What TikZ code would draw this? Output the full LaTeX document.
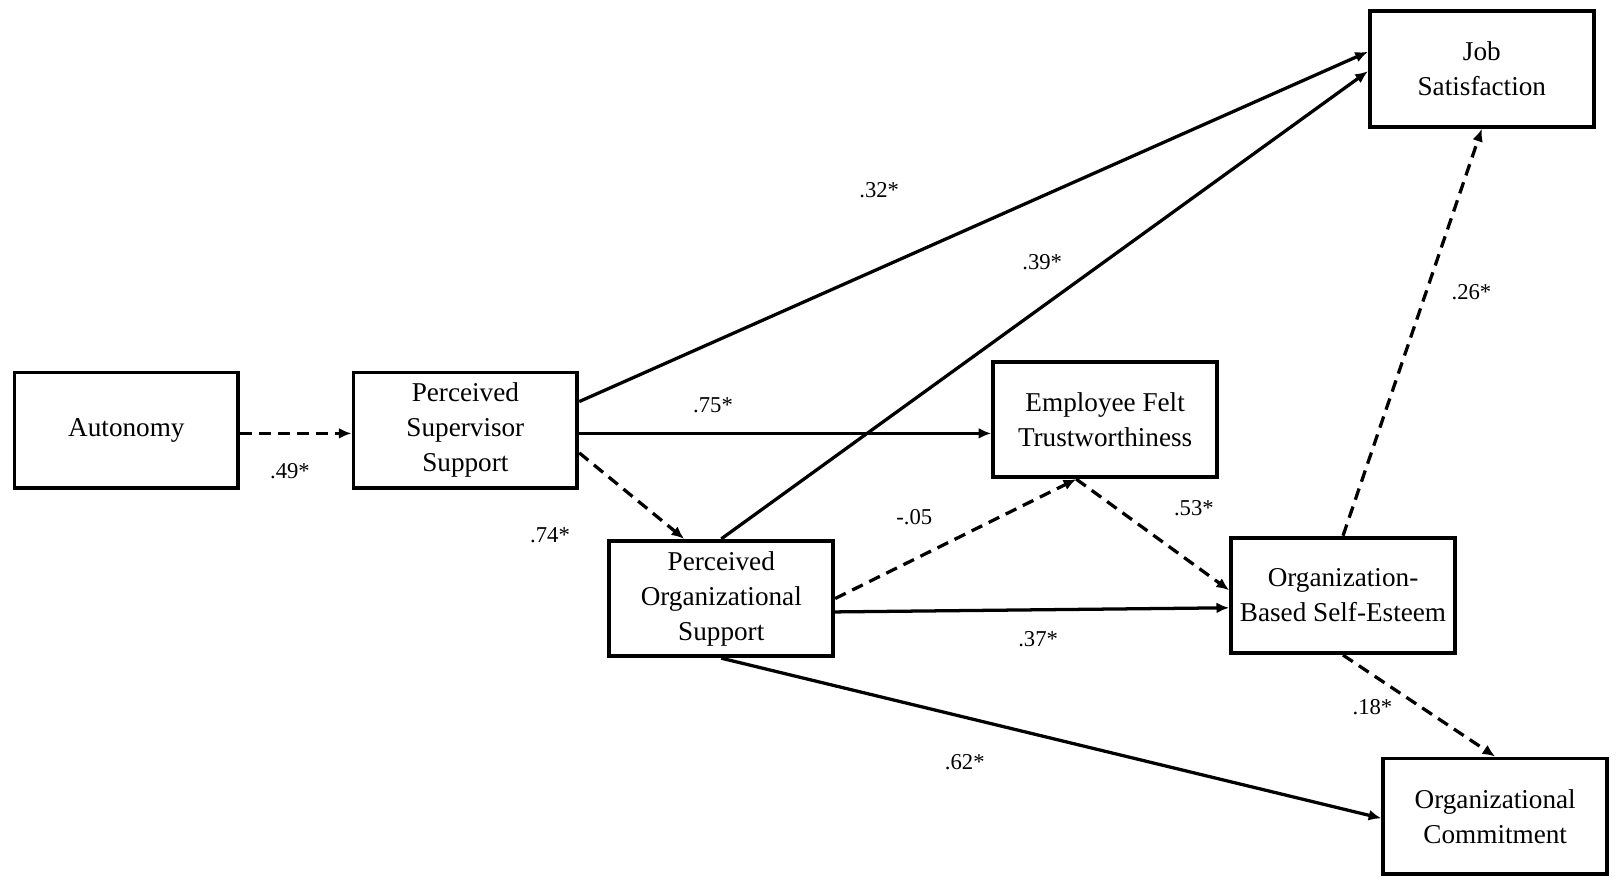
\documentclass[tikz,border=0pt]{standalone}
\usepackage{fontspec}
\setmainfont{Liberation Serif}
\usetikzlibrary{arrows.meta,calc}
\begin{document}
\begin{tikzpicture}[x=0.02cm,y=-0.02cm,
  box/.style={draw, line width=2.1pt, minimum width=4.34cm, minimum height=2.24cm, align=center, inner sep=0pt,
    font=\fontsize{15}{19.3}\selectfont},
  solidarr/.style={line width=1.8pt, -{Latex[length=7pt,width=6pt]}},
  dasharr/.style={solidarr, dash pattern=on 6.5pt off 4pt},
  lbl/.style={font=\fontsize{12.5}{14}\selectfont, inner sep=0pt}]
\useasboundingbox[fill=white] (0,0) rectangle (1568,850);

\node[box] (aut) at (122.5,417) {Autonomy};
\node[box] (pss) at (451,417) {Perceived\\Supervisor\\Support};
\node[box] (eft) at (1071,406.5) {Employee Felt\\Trustworthiness};
\node[box] (js) at (1436,67) {Job\\Satisfaction};
\node[box] (pos) at (699,580) {Perceived\\Organizational\\Support};
\node[box] (obse) at (1301.5,577) {Organization-\\Based Self-Esteem};
\node[box] (oc) at (1449,791) {Organizational\\Commitment};

\coordinate (eftin) at ($(eft.south)+(-28,0)$);
\coordinate (p1) at ($(aut.east)+(0,3)$);
\coordinate (p3) at ($(pss.east)+(0,3)$);

\draw[dasharr] (p1) -- (p1 -| pss.west);
\draw[solidarr] ($(pss.north east)+(0,30)$) -- ($(js.north west)+(0,41)$);
\draw[solidarr] (p3) -- (p3 -| eft.west);
\draw[dasharr] ($(pss.south east)+(0,-36)$) -- ($(pos.north)+(-36,0)$);
\draw[solidarr] (pos.north) -- ($(js.west)+(0,2)$);
\draw[dasharr] (pos.east) -- (eftin);
\draw[dasharr] (eftin) -- ($(obse.west)+(0,-5)$);
\draw[solidarr] ($(pos.east)+(0,13)$) -- ($(obse.west)+(0,12)$);
\draw[solidarr] (pos.south) -- ($(oc.west)+(0,2)$);
\draw[dasharr] (obse.north) -- (js.south);
\draw[dasharr] (obse.south) -- (oc.north);

\node[lbl] (l49) at (281,457) {.49*};
\node[lbl] (l32) at (852,184) {.32*};
\node[lbl] (l75) at (691,393) {.75*};
\node[lbl] (l74) at (533,519) {.74*};
\node[lbl] (l39) at (1010,254) {.39*};
\node[lbl] (l05) at (886,501) {-.05};
\node[lbl] (l37) at (1006,619) {.37*};
\node[lbl] (l62) at (935,739) {.62*};
\node[lbl] (l53) at (1157,492) {.53*};
\node[lbl] (l26) at (1426,283) {.26*};
\node[lbl] (l18) at (1330,685) {.18*};
\end{tikzpicture}
\end{document}
